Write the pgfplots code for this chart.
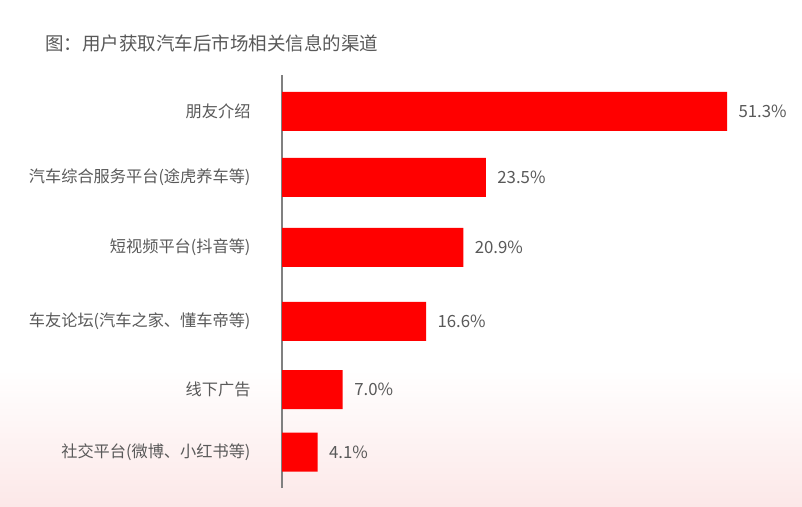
\documentclass[border=0pt]{standalone}
\usepackage{fontspec}
\setmainfont{Noto Sans CJK SC}
\usepackage{pgfplots}
\pgfplotsset{compat=1.18}
\definecolor{txtgray}{HTML}{595959}
\definecolor{axgray}{HTML}{808080}
\definecolor{barred}{HTML}{FF0000}
\definecolor{bgpink}{HTML}{FCE8E8}
\begin{document}
\begin{tikzpicture}[x=1pt,y=1pt]
\fill[white] (0,136) rectangle (802,506);
\shade[top color=white,bottom color=bgpink] (0,0) rectangle (802,136);
\path[use as bounding box] (0,0) rectangle (802,506);
\node[anchor=west,text=txtgray,font=\fontsize{18.5}{22}\selectfont,inner sep=0pt] at (45,463) {图：用户获取汽车后市场相关信息的渠道};
\begin{axis}[
  at={(282pt,431pt)}, anchor=north west,
  scale only axis, width=500pt, height=413pt,
  xmin=0, xmax=57.64, ymin=-488, ymax=-75,
  xbar, bar width=39pt,
  hide x axis,
  axis y line*=left,
  y axis line style={-, axgray, line width=1.6pt},
  ytick={-111.5,-177.5,-247.5,-321.5,-389.5,-452},
  yticklabels={朋友介绍,汽车综合服务平台(途虎养车等),短视频平台(抖音等),车友论坛(汽车之家、懂车帝等),线下广告,社交平台(微博、小红书等)},
  major tick length=0pt,
  yticklabel style={anchor=east, xshift=-28pt, text=txtgray, font=\fontsize{16.2}{19}\selectfont},
  nodes near coords={\pgfmathprintnumber[fixed,fixed zerofill,precision=1]{\pgfplotspointmeta}\%},
  point meta=explicit,
  nodes near coords align=horizontal,
  nodes near coords style={anchor=west, xshift=8pt, text=txtgray, font=\fontsize{16.8}{20}\selectfont},
  /pgf/number format/assume math mode=true,
  clip=false,
]
\addplot[fill=barred, draw=none] coordinates {
  (51.3,-111.5) [51.3]
  (23.5,-177.5) [23.5]
  (20.9,-247.5) [20.9]
  (16.6,-321.5) [16.6]
  (7.0,-389.5) [7.0]
  (4.1,-452) [4.1]
};
\end{axis}
\end{tikzpicture}
\end{document}
